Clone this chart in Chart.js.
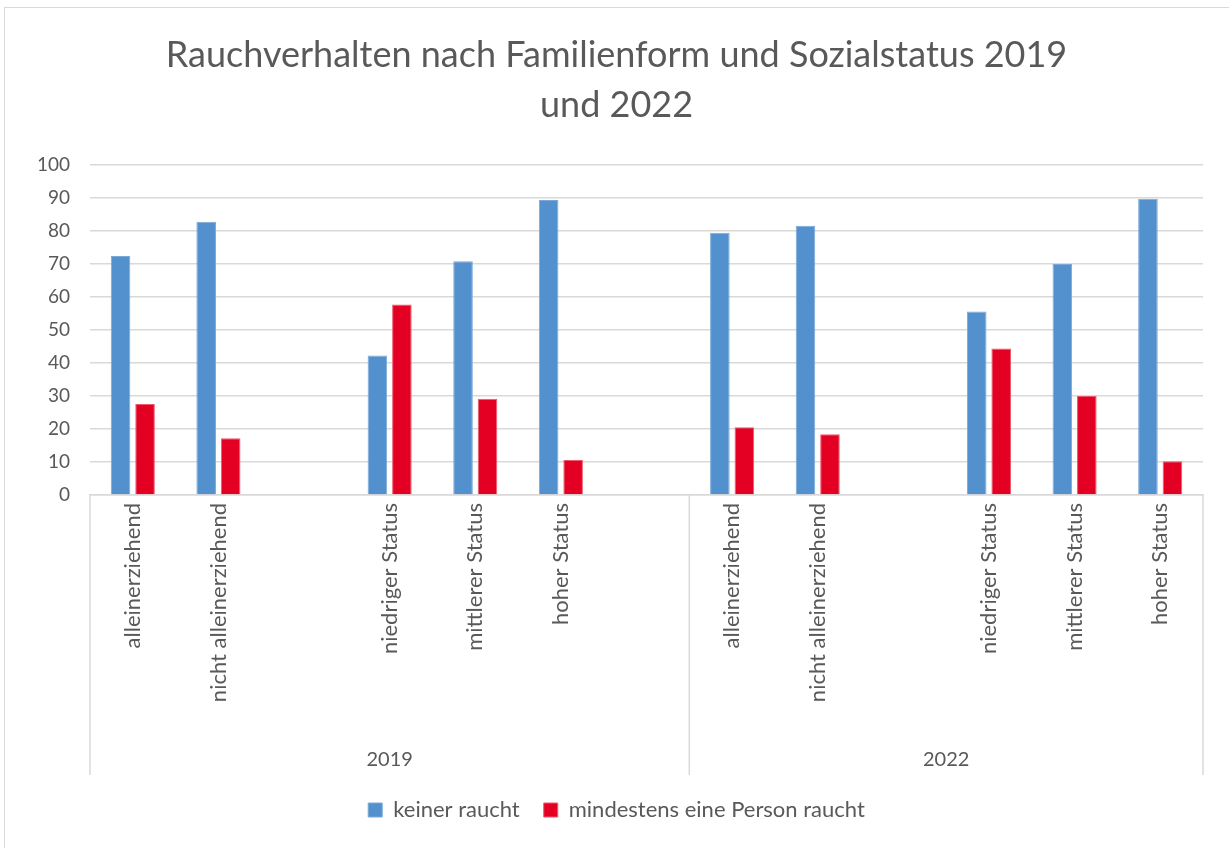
<!DOCTYPE html>
<html lang="de">
<head>
<meta charset="UTF-8">
<title>Rauchverhalten</title>
<script src="https://cdn.jsdelivr.net/npm/chart.js"></script>
<style>
  body { margin: 0; background: #fff; }
  .chart-box {
    position: absolute; left: 4px; top: 7px; width: 1225px; height: 841px;
    border-left: 1px solid #d9d9d9; border-top: 1px solid #d9d9d9;
  }
</style>
</head>
<body>
<div class="chart-box"><canvas id="rauchChart" width="1224" height="840"></canvas></div>
<script>
// Kategorien (leere Einträge = Lücken zwischen den Blöcken)
const kategorien = [
  'alleinerziehend', 'nicht alleinerziehend', '', 'niedriger Status', 'mittlerer Status', 'hoher Status', '',
  'alleinerziehend', 'nicht alleinerziehend', '', 'niedriger Status', 'mittlerer Status', 'hoher Status'
];
const jahre = ['2019', '2022'];
const jahrSpalten = [7, 6];   // Anzahl Kategorien je Jahr

const keinerRaucht = [72.4, 82.8, null, 42.3, 70.8, 89.4, null, 79.5, 81.6, null, 55.6, 70.0, 89.8];
const mindEinePerson = [27.6, 17.2, null, 57.7, 29.2, 10.6, null, 20.5, 18.4, null, 44.4, 30.0, 10.2];

const yTicks = [0, 10, 20, 30, 40, 50, 60, 70, 80, 90, 100];

const grau = '#595959';
const linie = '#d9d9d9';
const schrift = 'Lato, "Noto Sans", sans-serif';

// Jahresgruppen unter der Achse + Trennlinien
const gruppenPlugin = {
  id: 'gruppen',
  afterDraw(chart) {
    const ctx = chart.ctx;
    const x = chart.scales.x;
    const top = chart.chartArea.bottom;
    const bottom = top + 280;
    const half = (x.getPixelForValue(1) - x.getPixelForValue(0)) / 2;
    ctx.save();
    ctx.strokeStyle = linie;
    ctx.lineWidth = 1.5;
    let start = 0;
    const grenzen = [x.getPixelForValue(0) - half];
    jahrSpalten.forEach((n, i) => {
      const ende = start + n - 1;
      const links = x.getPixelForValue(start) - half;
      const rechts = x.getPixelForValue(ende) + half;
      grenzen.push(rechts);
      ctx.fillStyle = grau;
      ctx.font = '20px ' + schrift;
      ctx.textAlign = 'center';
      ctx.textBaseline = 'middle';
      ctx.fillText(jahre[i], (links + rechts) / 2, top + 265);
      start += n;
    });
    grenzen.forEach(px => {
      ctx.beginPath();
      ctx.moveTo(px, top);
      ctx.lineTo(px, bottom);
      ctx.stroke();
    });
    ctx.restore();
  }
};

new Chart(document.getElementById('rauchChart'), {
  type: 'bar',
  data: {
    labels: kategorien,
    datasets: [
      {
        label: 'keiner raucht',
        data: keinerRaucht,
        backgroundColor: '#5291cd',
        borderColor: '#7aa9d8',
        borderWidth: 1
      },
      {
        label: 'mindestens eine Person raucht',
        data: mindEinePerson,
        backgroundColor: '#e30022',
        borderColor: '#ec5a6c',
        borderWidth: 1
      }
    ]
  },
  options: {
    responsive: false,
    animation: false,
    categoryPercentage: 0.572,
    barPercentage: 0.8,
    layout: { padding: { left: 25, right: 26, top: 0, bottom: 17 } },
    scales: {
      x: {
        grid: { display: false, drawTicks: false },
        border: { display: true, color: linie, width: 1.5 },
        ticks: {
          color: grau,
          font: { size: 22, family: schrift },
          maxRotation: 90,
          minRotation: 90,
          padding: 8,
          autoSkip: false
        },
        afterFit(scale) { scale.height = 280; }
      },
      y: {
        min: 0,
        max: 100,
        afterBuildTicks(scale) { scale.ticks = yTicks.map(v => ({ value: v })); },
        grid: { color: linie, lineWidth: 1.5, drawTicks: false },
        border: { display: false },
        ticks: {
          color: grau,
          font: { size: 19, family: schrift },
          padding: 20
        },
        afterFit(scale) { scale.width = 60; }
      }
    },
    plugins: {
      title: {
        display: true,
        text: ['Rauchverhalten nach Familienform und Sozialstatus 2019', 'und 2022'],
        color: grau,
        font: { size: 36, family: schrift, weight: 'normal', lineHeight: '50px' },
        padding: { top: 22, bottom: 35 }
      },
      legend: {
        position: 'bottom',
        labels: {
          color: grau,
          font: { size: 22, family: schrift },
          boxWidth: 14,
          boxHeight: 14,
          padding: 24
        }
      },
      tooltip: { enabled: false }
    }
  },
  plugins: [gruppenPlugin]
});
</script>
</body>
</html>
